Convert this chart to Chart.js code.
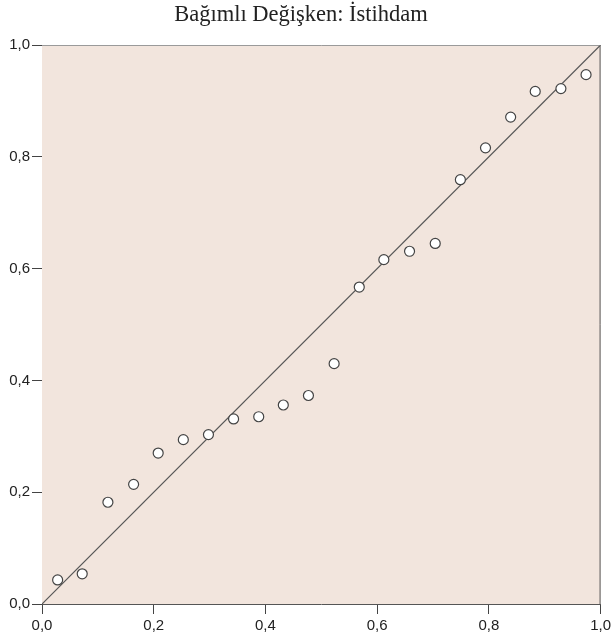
<!DOCTYPE html>
<html>
<head>
<meta charset="utf-8">
<script src="https://cdn.jsdelivr.net/npm/chart.js@4"></script>
<style>
html,body{margin:0;padding:0;background:#fff;}
#wrap{width:614px;height:644px;}
</style>
</head>
<body>
<div id="wrap"><canvas id="c" width="614" height="644"></canvas></div>
<script>
const titleText = 'Bağımlı Değişken: İstihdam';
const observedCumProb = [0.028,0.072,0.118,0.164,0.208,0.253,0.298,0.343,0.388,0.432,0.477,0.523,0.568,0.612,0.658,0.704,0.749,0.794,0.839,0.883,0.929,0.974];
const expectedCumProb = [0.043,0.054,0.182,0.214,0.270,0.294,0.303,0.331,0.335,0.356,0.373,0.430,0.567,0.616,0.631,0.645,0.759,0.816,0.871,0.917,0.922,0.947];
const refLineX = [0, 1];
const refLineY = [0, 1];
const tickValues = [0, 0.2, 0.4, 0.6, 0.8, 1.0];

const fmt = v => Number(v).toFixed(1).replace('.', ',');

const frame = {
  id: 'frame',
  beforeDatasetsDraw(chart) {
    const {ctx, chartArea: a} = chart;
    ctx.save();
    ctx.fillStyle = '#f2e5dd';
    ctx.fillRect(a.left, a.top, a.right - a.left, a.bottom - a.top);
    ctx.restore();
  },
  afterDraw(chart) {
    const {ctx, chartArea: a} = chart;
    ctx.save();
    ctx.lineWidth = 1;
    ctx.strokeStyle = '#9a9a9a';
    ctx.beginPath();
    ctx.moveTo(a.left, a.top + 0.5);
    ctx.lineTo(a.right, a.top + 0.5);
    ctx.stroke();
    ctx.strokeStyle = '#555';
    ctx.beginPath();
    ctx.moveTo(a.right - 0.5, a.top);
    ctx.lineTo(a.right - 0.5, a.bottom);
    ctx.stroke();
    ctx.restore();
  }
};

new Chart(document.getElementById('c'), {
  type: 'scatter',
  data: {
    datasets: [
      {
        type: 'line',
        data: refLineX.map((x, i) => ({x, y: refLineY[i]})),
        borderColor: '#555',
        borderWidth: 1.2,
        pointRadius: 0,
        fill: false,
        order: 2
      },
      {
        data: observedCumProb.map((x, i) => ({x, y: expectedCumProb[i]})),
        backgroundColor: '#ffffff',
        borderColor: '#444',
        borderWidth: 1.2,
        pointRadius: 5,
        pointHoverRadius: 5,
        order: 1
      }
    ]
  },
  options: {
    responsive: false,
    animation: false,
    devicePixelRatio: 1,
    layout: {padding: {left: 0, right: 12, top: 0, bottom: 0}},
    plugins: {
      legend: {display: false},
      tooltip: {enabled: false},
      title: {
        display: true,
        text: titleText,
        color: '#222',
        font: {family: '"Liberation Serif", "Times New Roman", serif', size: 22.5, weight: 'normal', lineHeight: 1.2},
        padding: {top: 2, bottom: 16}
      }
    },
    scales: {
      x: {
        type: 'linear', min: 0, max: 1,
        afterBuildTicks: s => { s.ticks = tickValues.map(v => ({value: v})); },
        afterFit: s => { s.height = 40; },
        ticks: {callback: fmt, color: '#222', font: {family: '"Liberation Sans", Arial, sans-serif', size: 15}, padding: 3, maxRotation: 0},
        grid: {drawOnChartArea: false, drawTicks: true, tickLength: 10, color: '#444'},
        border: {display: true, color: '#555', width: 1}
      },
      y: {
        type: 'linear', min: 0, max: 1,
        afterBuildTicks: s => { s.ticks = tickValues.map(v => ({value: v})); },
        afterFit: s => { s.width = 42; },
        ticks: {callback: fmt, color: '#222', font: {family: '"Liberation Sans", Arial, sans-serif', size: 15}, padding: 2},
        grid: {drawOnChartArea: false, drawTicks: true, tickLength: 10, color: '#444'},
        border: {display: true, color: '#555', width: 1}
      }
    }
  },
  plugins: [frame]
});
</script>
</body>
</html>
